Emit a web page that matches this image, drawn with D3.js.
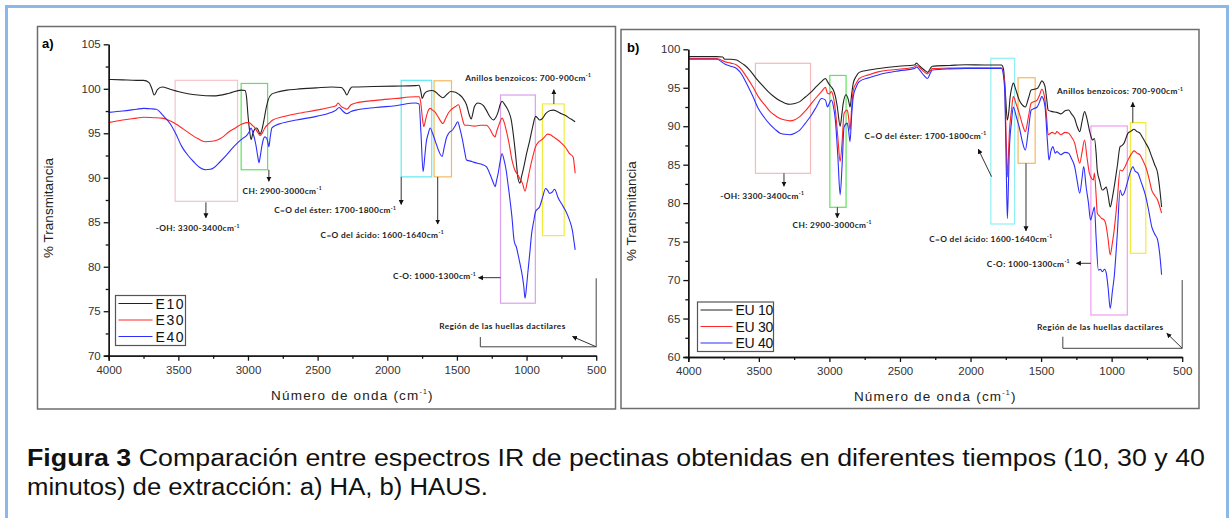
<!DOCTYPE html>
<html>
<head>
<meta charset="utf-8">
<script src="https://cdn.jsdelivr.net/npm/d3@7"></script>
<style>
  body { margin: 0; background: #fff; }
  svg { display: block; }
</style>
</head>
<body>
<div id="fig"></div>
<script>
// spectra: [wavenumber, % transmitancia]
const e10 = [[4000,101.05],[3900,101.0],[3800,100.95],[3750,100.95],[3710,100.7],[3690,100.0],[3674,99.3],[3650,99.9],[3617,100.2],[3560,99.95],[3503,99.7],[3430,99.45],[3361,99.3],[3248,99.2],[3134,99.5],[3049,99.85],[3021,99.8],[3010,99.0],[3000,97.0],[2990,95.5],[2978,94.3],[2965,95.0],[2950,95.5],[2937,95.6],[2925,95.3],[2914,94.9],[2900,95.4],[2885,96.5],[2870,97.8],[2856,98.7],[2830,99.4],[2794,99.6],[2720,99.85],[2652,99.95],[2510,100.1],[2400,100.2],[2330,100.15],[2305,99.7],[2291,99.3],[2270,99.9],[2254,100.2],[2100,100.25],[1950,100.3],[1800,100.35],[1772,100.4],[1760,99.8],[1749,98.9],[1735,99.4],[1715,99.7],[1680,99.8],[1658,99.7],[1630,99.3],[1601,99.0],[1570,99.4],[1545,99.7],[1510,99.6],[1488,99.4],[1460,99.0],[1431,98.2],[1410,97.0],[1397,96.6],[1385,97.3],[1374,98.0],[1350,98.4],[1332,98.35],[1310,98.1],[1289,97.6],[1260,96.8],[1238,96.5],[1220,96.8],[1204,97.4],[1190,98.2],[1176,98.6],[1160,98.3],[1133,97.6],[1110,96.5],[1090,94.2],[1075,92.0],[1062,90.0],[1048,89.4],[1035,90.2],[1020,91.2],[1000,92.7],[977,94.2],[955,95.8],[935,96.9],[920,96.7],[906,96.5],[890,96.6],[863,97.2],[830,97.55],[807,97.6],[780,97.45],[750,97.2],[720,97.0],[693,96.7],[670,96.5],[651,96.3]];

const e30 = [[4000,96.2],[3900,96.5],[3800,96.7],[3750,96.8],[3680,96.75],[3617,96.7],[3560,96.4],[3503,95.9],[3430,95.1],[3361,94.4],[3305,94.05],[3260,94.1],[3219,94.25],[3180,94.6],[3134,95.2],[3090,95.6],[3049,96.0],[3010,96.2],[2992,96.2],[2970,95.9],[2950,95.6],[2930,95.1],[2913,94.75],[2895,95.1],[2879,95.6],[2850,96.1],[2822,96.5],[2750,96.85],[2652,97.2],[2510,97.6],[2400,97.95],[2368,98.1],[2354,98.4],[2330,98.0],[2305,97.8],[2291,97.7],[2260,98.2],[2226,98.4],[2084,98.7],[1942,98.9],[1800,99.1],[1772,99.1],[1760,98.5],[1750,97.0],[1738,95.75],[1725,96.5],[1710,97.4],[1692,97.8],[1675,97.6],[1658,97.4],[1630,96.7],[1601,96.1],[1580,96.7],[1560,97.3],[1545,97.6],[1510,98.0],[1488,98.2],[1470,97.2],[1455,96.3],[1445,95.9],[1420,95.9],[1374,95.8],[1330,95.9],[1289,95.9],[1260,95.4],[1240,94.8],[1226,94.6],[1215,95.2],[1204,95.7],[1190,96.3],[1176,96.7],[1160,96.2],[1147,95.4],[1125,93.8],[1105,92.0],[1085,90.9],[1062,90.3],[1048,89.9],[1030,89.4],[1011,88.5],[995,89.5],[977,90.9],[955,92.4],[935,93.5],[915,94.0],[892,94.25],[870,94.6],[850,94.9],[825,94.8],[807,94.6],[780,94.3],[750,93.9],[720,93.4],[693,92.75],[665,92.3],[658,91.5],[651,90.5]];

const e40 = [[4000,97.35],[3900,97.5],[3800,97.7],[3750,97.8],[3700,97.75],[3659,97.7],[3610,97.0],[3560,96.1],[3520,95.0],[3475,93.5],[3430,92.5],[3390,91.8],[3340,91.1],[3305,90.9],[3270,90.95],[3248,91.1],[3200,91.8],[3163,92.4],[3120,93.2],[3077,93.9],[3040,94.4],[3007,94.8],[2990,95.2],[2978,95.6],[2964,95.0],[2950,94.2],[2941,93.5],[2930,92.4],[2921,91.7],[2912,92.4],[2901,93.5],[2890,94.3],[2879,94.6],[2865,94.4],[2856,93.9],[2850,93.5],[2840,94.6],[2828,95.6],[2800,95.9],[2765,96.1],[2652,96.5],[2510,96.9],[2400,97.35],[2368,97.6],[2345,97.9],[2320,97.5],[2291,97.2],[2260,97.45],[2226,97.6],[2084,97.9],[1942,98.1],[1800,98.4],[1772,98.3],[1758,95.0],[1743,90.7],[1730,92.5],[1721,93.9],[1705,95.0],[1692,95.6],[1675,95.0],[1658,94.25],[1630,93.0],[1607,92.4],[1590,93.5],[1575,94.5],[1559,95.0],[1530,95.4],[1510,95.9],[1494,96.3],[1480,95.6],[1460,94.25],[1445,93.0],[1431,92.0],[1410,91.9],[1389,91.8],[1370,91.7],[1346,91.6],[1320,91.5],[1289,91.25],[1260,90.3],[1240,89.5],[1226,89.0],[1215,89.7],[1204,90.5],[1190,91.8],[1176,92.7],[1160,91.9],[1147,90.9],[1135,89.5],[1125,88.3],[1115,87.0],[1105,85.6],[1090,83.0],[1082,82.5],[1075,82.3],[1060,81.3],[1048,80.4],[1034,79.3],[1020,77.8],[1011,76.45],[1000,77.8],[991,79.3],[977,81.5],[963,83.8],[950,85.0],[935,86.2],[920,86.5],[906,86.75],[885,87.8],[863,88.8],[850,88.6],[835,88.25],[815,88.4],[800,88.7],[793,88.6],[775,87.8],[750,87.1],[720,86.3],[693,85.3],[670,84.0],[660,82.9],[651,81.9]];

const eu10 = [[4000,99.05],[3900,99.05],[3800,99.05],[3756,99.0],[3742,98.7],[3700,98.7],[3658,98.6],[3630,98.3],[3602,97.96],[3560,97.2],[3518,96.2],[3475,95.3],[3434,94.5],[3390,93.8],[3350,93.3],[3315,93.0],[3280,92.85],[3245,92.95],[3210,93.2],[3170,93.8],[3126,94.5],[3090,95.2],[3056,95.8],[3028,96.2],[3014,95.8],[3000,95.4],[2986,95.1],[2972,94.7],[2958,93.9],[2944,92.5],[2924,90.0],[2912,91.5],[2902,93.0],[2882,94.1],[2865,93.4],[2854,92.5],[2842,94.2],[2831,95.6],[2810,96.5],[2789,97.0],[2720,97.3],[2649,97.5],[2509,97.8],[2397,97.96],[2383,98.2],[2365,97.9],[2341,97.5],[2320,97.2],[2305,97.0],[2285,97.5],[2271,97.8],[2150,97.9],[2033,98.0],[1900,97.96],[1781,97.96],[1767,97.5],[1753,94.3],[1739,90.8],[1728,92.0],[1719,93.85],[1708,95.0],[1697,95.6],[1680,94.8],[1655,93.4],[1635,92.8],[1612,92.5],[1590,93.6],[1570,94.7],[1550,94.8],[1528,94.9],[1510,95.4],[1495,95.9],[1480,95.6],[1472,95.15],[1460,93.5],[1450,92.1],[1420,91.9],[1388,91.8],[1360,91.6],[1330,92.0],[1304,92.1],[1285,91.6],[1262,91.0],[1245,90.0],[1226,89.3],[1210,90.6],[1192,91.9],[1175,91.0],[1158,89.5],[1145,88.6],[1136,88.2],[1122,88.4],[1110,86.5],[1102,84.3],[1085,82.9],[1066,81.7],[1050,81.9],[1038,82.1],[1025,81.0],[1010,79.5],[995,80.7],[982,82.1],[960,84.8],[940,87.35],[925,87.5],[912,87.8],[884,89.1],[860,89.4],[842,89.6],[820,89.3],[800,89.1],[780,88.5],[758,87.8],[735,87.0],[716,86.05],[695,85.0],[674,83.9],[660,82.0],[646,79.5]];

const eu30 = [[4000,98.8],[3900,98.8],[3798,98.8],[3742,98.4],[3700,98.2],[3658,97.96],[3620,97.3],[3588,96.45],[3545,95.2],[3504,93.85],[3460,92.8],[3420,91.9],[3385,91.4],[3350,91.0],[3315,90.8],[3280,90.7],[3245,90.85],[3210,91.25],[3170,92.0],[3126,93.0],[3090,93.8],[3056,94.5],[3028,95.05],[3014,94.3],[3000,94.2],[2986,94.5],[2972,93.8],[2958,92.1],[2940,88.5],[2924,85.4],[2910,88.0],[2896,91.7],[2874,92.1],[2865,91.3],[2854,89.5],[2842,92.5],[2831,94.7],[2810,95.6],[2789,96.2],[2720,96.7],[2649,97.1],[2509,97.4],[2397,97.7],[2383,97.9],[2360,97.6],[2330,97.1],[2305,96.8],[2285,97.2],[2271,97.5],[2150,97.55],[2033,97.6],[1900,97.6],[1781,97.6],[1759,96.0],[1747,88.2],[1739,83.4],[1732,86.0],[1725,89.1],[1710,92.0],[1697,93.85],[1675,92.8],[1655,91.7],[1630,90.1],[1612,89.3],[1590,91.2],[1570,93.0],[1550,93.2],[1528,93.4],[1510,94.1],[1495,94.8],[1480,94.2],[1472,93.4],[1460,91.0],[1450,88.9],[1420,89.2],[1400,89.0],[1388,89.3],[1360,88.9],[1330,89.2],[1304,89.1],[1285,88.6],[1262,87.8],[1245,86.4],[1226,85.2],[1210,86.6],[1192,88.2],[1175,86.0],[1158,83.9],[1145,83.3],[1130,83.0],[1122,83.9],[1110,81.0],[1102,78.7],[1085,78.3],[1070,78.0],[1052,77.8],[1038,76.95],[1025,75.3],[1010,73.3],[995,74.8],[982,76.5],[960,80.5],[940,84.3],[925,84.2],[912,84.5],[884,85.6],[860,86.4],[842,86.8],[820,86.5],[800,86.3],[780,85.6],[758,84.7],[735,83.2],[716,81.7],[695,81.0],[674,80.4],[660,79.6],[646,78.7]];

const eu40 = [[4000,98.7],[3900,98.7],[3798,98.7],[3742,98.1],[3700,97.8],[3658,97.5],[3620,96.7],[3588,95.6],[3545,94.0],[3504,92.3],[3460,91.1],[3420,90.2],[3385,89.6],[3350,89.1],[3315,88.95],[3280,88.9],[3245,89.1],[3210,89.5],[3170,90.4],[3126,91.5],[3090,92.6],[3056,93.6],[3028,93.4],[3014,92.5],[3000,93.0],[2986,93.4],[2972,92.6],[2958,90.8],[2940,86.0],[2924,81.1],[2910,85.0],[2896,89.9],[2874,90.4],[2865,89.6],[2854,88.0],[2842,91.5],[2831,93.85],[2810,95.1],[2789,95.8],[2720,96.3],[2649,96.7],[2509,97.2],[2397,97.5],[2383,97.7],[2360,97.3],[2330,96.6],[2305,96.2],[2285,96.9],[2271,97.3],[2150,97.45],[2033,97.5],[1900,97.5],[1781,97.5],[1759,95.15],[1747,84.7],[1739,78.0],[1732,82.0],[1725,86.9],[1710,90.5],[1697,92.5],[1675,91.2],[1655,89.9],[1630,87.8],[1612,86.9],[1590,89.5],[1570,92.1],[1550,92.3],[1528,92.5],[1510,93.2],[1495,93.85],[1480,93.3],[1472,92.5],[1455,88.0],[1444,85.6],[1430,86.8],[1416,87.35],[1400,86.5],[1388,86.7],[1360,86.3],[1330,86.6],[1304,86.5],[1285,85.8],[1262,84.75],[1245,83.0],[1226,81.3],[1210,83.2],[1198,84.75],[1180,82.0],[1164,80.0],[1150,77.8],[1135,78.7],[1122,79.5],[1110,75.5],[1094,71.3],[1080,71.4],[1066,71.1],[1050,71.4],[1038,70.9],[1025,69.0],[1010,66.3],[995,68.5],[982,70.4],[960,76.0],[940,81.7],[925,81.0],[912,81.3],[884,83.0],[865,84.2],[850,84.75],[835,84.2],[814,83.9],[790,82.7],[758,80.85],[735,78.8],[716,76.95],[695,76.0],[674,75.2],[660,73.5],[646,70.7]];

const seriesColors = ["#222222", "#ff2626", "#2e2eff"];
const labelsA = ["E10", "E30", "E40"];
const labelsB = ["EU 10", "EU 30", "EU 40"];

const xTicks = [4000, 3500, 3000, 2500, 2000, 1500, 1000, 500];
const yTicksA = [70, 75, 80, 85, 90, 95, 100, 105];
const yTicksB = [60, 65, 70, 75, 80, 85, 90, 95, 100];

// coloured boxes round the bands: [wn start, wn end, T top, T bottom, colour]
const boxesA = [[3523,3075,100.95,87.35,"#f6c3cb"],[3049,2859,100.6,90.9,"#5ee35e"],[1900,1681,100.95,90.1,"#5fe9f0"],[1664,1539,100.9,90.1,"#f7b85a"],[1187,937,99.3,75.9,"#d9a0ee"],[886,730,98.3,83.5,"#f1ec3c"]];
const boxesB = [[3524,3134,98.18,83.88,"#f6b9be"],[2997,2882,96.6,79.46,"#5ee35e"],[1856,1688,98.83,77.29,"#8ff0f4"],[1663,1542,96.3,85.18,"#f7b85a"],[1147,889,90.03,65.46,"#f09cf0"],[867,758,90.47,73.48,"#f1ec3c"]];

const bandNames = ["-OH: 3300-3400cm", "CH: 2900-3000cm", "C=O del éster: 1700-1800cm", "C=O del ácido: 1600-1640cm", "C-O: 1000-1300cm", "Anillos benzoicos: 700-900cm"];
const fingerName = "Región de las huellas dactilares";

// arrows [wn0, T0, wn1, T1] and label spot [wn, T, anchor]
const arrowsA = [[3302,87.24,3302,85.5],[2850,90.9,2850,89.6],[1900,90.1,1900,87.0],[1638,90.1,1638,84.8],[1187,78.77,1345,78.77],[804,98.3,804,99.9]];
const labelSpotA = [[3361,84.0,"middle"],[2754,88.2,"middle"],[1935,86.0,"end"],[2036,83.25,"middle"],[1362,78.6,"end"],[988,100.9,"middle"]];
const arrowsB = [[3322,83.88,3322,82.2],[2944,79.46,2944,78.1],[1851,83.45,1945,87.0],[1607,85.18,1607,76.4],[1147,72.18,1250,72.18],[850,90.47,850,93.1]];
const labelSpotB = [[3476,80.6,"middle"],[2980,76.8,"middle"],[2319,88.4,"middle"],[1856,75.0,"middle"],[1296,71.75,"end"],[940,94.15,"middle"]];

const svg = d3.select("#fig")
    .append("svg")
    .attr("width", 1230)
    .attr("height", 518);

svg.append("rect").attr("width", 1230).attr("height", 518).attr("fill", "#fff");

// blue frame of the figure
svg.append("rect")
    .attr("x", 6.5).attr("y", 6.5)
    .attr("width", 1221).attr("height", 530)
    .attr("fill", "none")
    .attr("stroke", "#8bb8e6")
    .attr("stroke-width", 3);

const defs = svg.append("defs");
defs.append("marker")
    .attr("id", "head")
    .attr("viewBox", "0 0 10 10")
    .attr("refX", 9).attr("refY", 5)
    .attr("markerWidth", 5).attr("markerHeight", 6)
    .attr("orient", "auto")
    .append("path")
    .attr("d", "M0,0 L10,5 L0,10 Z")
    .attr("fill", "#111");

const addLabel = (g, txt, x, y, anchor) => {
    const t = g.append("text")
        .attr("x", x).attr("y", y)
        .attr("text-anchor", anchor)
        .attr("font-family", "Lato, 'Open Sans', sans-serif")
        .attr("font-weight", "bold")
        .attr("font-size", 8.3)
        .attr("letter-spacing", 0.35)
        .attr("fill", "#222");
    t.append("tspan").text(txt);
    t.append("tspan").attr("dy", -3.5).attr("font-size", 5).text("-1");
    return t;
};

const drawPanel = (p) => {
    const g = svg.append("g");

    g.append("rect")
        .attr("x", p.frame[0]).attr("y", p.frame[1])
        .attr("width", p.frame[2]).attr("height", p.frame[3])
        .attr("fill", "#fff")
        .attr("stroke", "#6d6d6d")
        .attr("stroke-width", 1.5);

    const x = d3.scaleLinear().domain([4000, 500]).range([p.left, p.right]);
    const y = d3.scaleLinear().domain(p.yDomain).range([p.bottom, p.top]);

    // boxes first so the lines go over them
    g.selectAll(".box")
        .data(p.boxes)
        .join("rect")
        .attr("x", d => x(d[0]))
        .attr("y", d => y(d[2]))
        .attr("width", d => x(d[1]) - x(d[0]))
        .attr("height", d => y(d[3]) - y(d[2]))
        .attr("fill", "none")
        .attr("stroke", d => d[4])
        .attr("stroke-width", 1.2);

    const line = d3.line()
        .x(d => x(d[0]))
        .y(d => y(d[1]))
        .curve(d3.curveMonotoneX);

    p.series.forEach((s, i) => {
        g.append("path")
            .attr("d", line(s))
            .attr("fill", "none")
            .attr("stroke", seriesColors[i])
            .attr("stroke-width", 1.1);
    });

    // axes
    const xAxis = d3.axisBottom(x).tickValues(xTicks).tickSize(5).tickFormat(d3.format("d"));
    const xMinor = d3.axisBottom(x).tickValues(d3.range(3750, 500, -500)).tickSize(3).tickFormat("");
    const yAxis = d3.axisLeft(y).tickValues(p.yTicks).tickSize(5);
    const yMinor = d3.axisLeft(y).tickValues(p.yTicks.slice(0, -1).map(v => v + 2.5)).tickSize(3).tickFormat("");

    [xAxis, xMinor].forEach(ax => {
        g.append("g")
            .attr("transform", `translate(0,${p.bottom})`)
            .call(ax)
            .call(a => a.selectAll("text").attr("font-size", 11.5).attr("fill", "#333").attr("dy", "0.9em")
                .attr("font-family", "'Liberation Sans', Arial, sans-serif"))
            .call(a => a.selectAll("line,path").attr("stroke", "#111").attr("stroke-width", 1.3));
    });
    [yAxis, yMinor].forEach(ax => {
        g.append("g")
            .attr("transform", `translate(${p.left},0)`)
            .call(ax)
            .call(a => a.selectAll("text").attr("font-size", 11.5).attr("fill", "#333")
                .attr("font-family", "'Liberation Sans', Arial, sans-serif"))
            .call(a => a.selectAll("line,path").attr("stroke", "#111").attr("stroke-width", 1.3));
    });
    g.selectAll(".domain").attr("d", function() {
        return d3.select(this).attr("d").replace(/V6|H-6|V5|H-5|V3|H-3/g, "");
    });

    // titles
    g.append("text")
        .attr("transform", `translate(${p.yTitleX},${(p.top + p.bottom) / 2 + 8}) rotate(-90)`)
        .attr("text-anchor", "middle")
        .attr("font-family", "'Liberation Sans', Arial, sans-serif")
        .attr("font-size", 13.5)
        .attr("fill", "#222")
        .text("% Transmitancia");

    const xt = g.append("text")
        .attr("x", (p.left + p.right) / 2)
        .attr("y", p.bottom + 44)
        .attr("text-anchor", "middle")
        .attr("font-family", "'Liberation Sans', Arial, sans-serif")
        .attr("font-size", 13.5)
        .attr("letter-spacing", 1.2)
        .attr("fill", "#222");
    xt.append("tspan").text("Número de onda (cm");
    xt.append("tspan").attr("dy", -6).attr("font-size", 7).text("-1");
    xt.append("tspan").attr("dy", 6).text(")");

    g.append("text")
        .attr("x", p.tag[0]).attr("y", p.tag[1])
        .attr("font-family", "'Liberation Sans', Arial, sans-serif")
        .attr("font-weight", "bold")
        .attr("font-size", 13)
        .text(p.tagText);

    // band arrows + labels
    p.arrows.forEach((a, i) => {
        g.append("line")
            .attr("x1", x(a[0])).attr("y1", y(a[1]))
            .attr("x2", x(a[2])).attr("y2", y(a[3]))
            .attr("stroke", "#333")
            .attr("stroke-width", 1)
            .attr("marker-end", "url(#head)");
        const l = p.labelSpots[i];
        addLabel(g, bandNames[i], x(l[0]), y(l[1]), l[2]);
    });

    // fingerprint bracket
    const f = p.finger;
    g.append("path")
        .attr("d", `M${x(f.x0)},${y(f.tTick)} V${y(f.tLow)} H${x(500)} V${y(f.tHigh)}`)
        .attr("fill", "none")
        .attr("stroke", "#444")
        .attr("stroke-width", 1);
    g.append("line")
        .attr("x1", x(500)).attr("y1", y(f.tLow))
        .attr("x2", x(f.arrowWn)).attr("y2", y(f.arrowT))
        .attr("stroke", "#333")
        .attr("stroke-width", 1)
        .attr("marker-end", "url(#head)");
    g.append("text")
        .attr("x", x(f.labelWn)).attr("y", y(f.labelT))
        .attr("text-anchor", "middle")
        .attr("font-family", "Lato, 'Open Sans', sans-serif")
        .attr("font-weight", "bold")
        .attr("font-size", 8.3)
        .attr("letter-spacing", 0.4)
        .attr("fill", "#222")
        .text(fingerName);

    // legend
    const lg = g.append("g");
    lg.append("rect")
        .attr("x", p.legend[0]).attr("y", p.legend[1])
        .attr("width", p.legend[2]).attr("height", p.legend[3])
        .attr("fill", "#fff")
        .attr("stroke", "#555")
        .attr("stroke-width", 1.2);
    p.names.forEach((n, i) => {
        const yy = p.legend[1] + 8 + i * 16.5;
        lg.append("line")
            .attr("x1", p.legend[0] + 3).attr("x2", p.legend[0] + p.lineLen)
            .attr("y1", yy).attr("y2", yy)
            .attr("stroke", seriesColors[i])
            .attr("stroke-width", 1.2);
        lg.append("text")
            .attr("x", p.legend[0] + p.lineLen + 3).attr("y", yy + 5)
            .attr("font-family", "'Liberation Sans', Arial, sans-serif")
            .attr("font-size", 14)
            .attr("letter-spacing", p.legendSpacing)
            .attr("fill", "#111")
            .text(n);
    });
};

drawPanel({
    frame: [37.5, 26.5, 578, 382.5],
    left: 108.7, right: 596.2, top: 44.3, bottom: 355.7,
    yDomain: [70, 105], yTicks: yTicksA,
    series: [e10, e30, e40], names: labelsA,
    boxes: boxesA, arrows: arrowsA, labelSpots: labelSpotA,
    finger: {x0: 1332, tTick: 72.1, tLow: 71.0, tHigh: 78.7, arrowWn: 670, arrowT: 72.15, labelWn: 1173, labelT: 72.95},
    legend: [115.5, 295.5, 70, 50], lineLen: 37, legendSpacing: 1.6,
    yTitleX: 53, tag: [42, 48], tagText: "a)"
});

drawPanel({
    frame: [621, 29.5, 578, 379],
    left: 688.3, right: 1182.2, top: 49.3, bottom: 357,
    yDomain: [60, 100], yTicks: yTicksB,
    series: [eu10, eu30, eu40], names: labelsB,
    boxes: boxesB, arrows: arrowsB, labelSpots: labelSpotB,
    finger: {x0: 1346, tTick: 62.64, tLow: 61.13, tHigh: 70.0, arrowWn: 609, arrowT: 63.08, labelWn: 1080, labelT: 63.5},
    legend: [697.5, 302, 76, 49.5], lineLen: 35, legendSpacing: -0.3,
    yTitleX: 636, tag: [627, 52], tagText: "b)"
});

// caption, stretched to the width it has in the picture
const cap = svg.append("text")
    .attr("x", 27).attr("y", 466)
    .attr("font-family", "'Liberation Sans', Arial, sans-serif")
    .attr("font-size", 23.5)
    .attr("textLength", 1178)
    .attr("lengthAdjust", "spacingAndGlyphs")
    .attr("fill", "#111");
cap.append("tspan").attr("font-weight", "bold").text("Figura 3");
cap.append("tspan").text(" Comparación entre espectros IR de pectinas obtenidas en diferentes tiempos (10, 30 y 40");
svg.append("text")
    .attr("x", 27).attr("y", 495)
    .attr("font-family", "'Liberation Sans', Arial, sans-serif")
    .attr("font-size", 23.5)
    .attr("textLength", 461)
    .attr("lengthAdjust", "spacingAndGlyphs")
    .attr("fill", "#111")
    .text("minutos) de extracción: a) HA, b) HAUS.");
</script>
</body>
</html>
